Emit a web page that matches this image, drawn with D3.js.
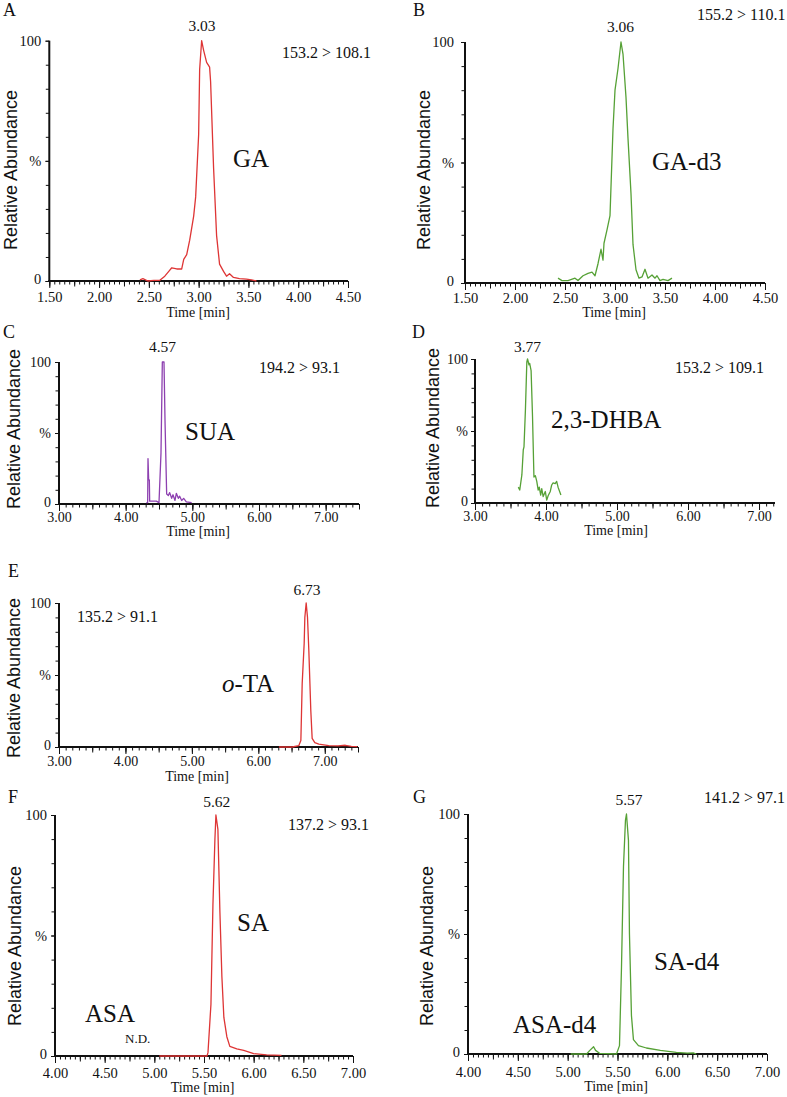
<!DOCTYPE html>
<html><head><meta charset="utf-8">
<script src="https://cdn.jsdelivr.net/npm/d3@7"></script>
<style>body{margin:0;background:#fff}svg{display:block}</style>
</head><body>
<svg id="chart" width="787" height="1097"></svg>
<script>
// ---------- DATA ----------
// A: GA (153.2 > 108.1)
const gaTime  = [2.41,2.44,2.49,2.55,2.61,2.66,2.70,2.73,2.78,2.83,2.85,2.88,2.91,2.95,2.97,3.00,3.01,3.03,3.05,3.08,3.11,3.12,3.15,3.18,3.21,3.25,3.28,3.31,3.35,3.41,3.48,3.53,3.58];
const gaAbund = [0.5,1,0,0.3,0.3,2,4,5.5,5,5,9,11,17,27,35,61,88,100,96,91,89,83,47,19,7,4,2,3,1.5,1,0.8,0.5,0];
// B: GA-d3 (155.2 > 110.1)
const gadTime  = [2.43,2.47,2.53,2.60,2.63,2.68,2.73,2.77,2.80,2.83,2.86,2.88,2.89,2.92,2.95,2.98,3.00,3.03,3.06,3.08,3.11,3.13,3.16,3.18,3.21,3.24,3.27,3.30,3.33,3.37,3.40,3.42,3.45,3.48,3.53,3.57];
const gadAbund = [2,1,1,2,1,3,4,4.5,3,8,14,9.5,16.5,22,28,64,80,89,100,95,77,60,37,16,5.5,2,2.5,5.7,2,3.3,2,3,1,1.5,1,2];
// C: SUA (194.2 > 93.1)
const suaTime  = [4.31,4.33,4.335,4.345,4.355,4.36,4.46,4.50,4.53,4.55,4.575,4.59,4.615,4.64,4.66,4.69,4.71,4.74,4.76,4.79,4.81,4.84,4.87,4.91,4.99];
const suaAbund = [1,1,32,17,17,2,2,1,36,100,100,59,7,6,8,4,6.5,2.5,7.5,4,5.5,2.5,4,1.5,1];
// D: 2,3-DHBA (153.2 > 109.1)
const dhbaTime  = [3.61,3.63,3.66,3.68,3.69,3.71,3.73,3.74,3.76,3.77,3.79,3.81,3.83,3.85,3.87,3.89,3.905,3.925,3.94,3.96,3.99,4.01,4.03,4.06,4.08,4.10,4.13,4.15,4.17,4.21];
const dhbaAbund = [11,9,19.5,37,39,64.5,98,100,96,97,92,60,18,19,15,9,11,5.5,10,4.5,8,2,5,8,12.5,14,13.5,15,11,5.5];
// E: o-TA (135.2 > 91.1)
const otaTime  = [6.31,6.51,6.61,6.64,6.66,6.69,6.70,6.72,6.74,6.76,6.79,6.81,6.85,6.91,7.06,7.20,7.31,7.40,7.49];
const otaAbund = [0,0,1,4.5,44,72,90,100,90,67,25,6,3,2,1,0.8,1.2,0.5,0.3];
// F: SA (137.2 > 93.1)
const saTime  = [5.05,5.30,5.53,5.54,5.57,5.59,5.61,5.62,5.64,5.66,5.68,5.70,5.73,5.76,5.83,5.90,6.00,6.13,6.28];
const saAbund = [0,0,0,1.4,21.5,63,90,100,94,60,33,16,8,4,3,2.3,1,0.5,0.3];
// G: SA-d4 (141.2 > 97.1)
const sadTime  = [5.03,5.19,5.22,5.26,5.28,5.32,5.49,5.52,5.54,5.56,5.58,5.59,5.61,5.62,5.64,5.66,5.71,5.79,5.93,6.09,6.20,6.26,6.29];
const sadAbund = [0,0,1.4,3,1.5,0.3,0,3.5,36,78,97.5,100,89,50,16,6,3.5,2.5,1.5,0.7,0.4,0.5,0];

// tick labels
const ticksAB  = [1.5,2.0,2.5,3.0,3.5,4.0,4.5];
const ticksCDE = [3,4,5,6,7];
const ticksFG  = [4.0,4.5,5.0,5.5,6.0,6.5,7.0];
const yTickValues = [0,50,100];
const yTickLabels = ["0","%","100"];

// text labels
const panelLetters = ["A","B","C","D","E","F","G"];
const peakLabels   = ["3.03","3.06","4.57","3.77","6.73","5.62","5.57"];
const mrmLabels    = ["153.2 > 108.1","155.2 > 110.1","194.2 > 93.1","153.2 > 109.1","135.2 > 91.1","137.2 > 93.1","141.2 > 97.1"];
const xTitle = "Time [min]";
const yTitle = "Relative Abundance";

// ---------- STYLE / LAYOUT ----------
const RED="#de3535", GREEN="#56a136", PURPLE="#8d40b0";
const SERIF='"Liberation Serif","Times New Roman",serif';
const SANS='"Liberation Sans",Arial,sans-serif';

const panels = [
 {time:gaTime, ab:gaAbund, color:RED, xr:[49.3,348], yr:[281,40.7], dom:[1.5,4.5], ticks:ticksAB, minor:0.05, mid:0.25,
  letter:[3,16], peak:[202,31], mrm:[282,58], tOff:21, tf:14.5, title:[198,317], ylab:[11,170], yGap:8,
  names:[{t:"GA",x:233,y:167}]},
 {time:gadTime, ab:gadAbund, color:GREEN, xr:[465,765], yr:[283,42], dom:[1.5,4.5], ticks:ticksAB, minor:0.05, mid:0.25,
  letter:[413,16], peak:[620.5,32], mrm:[697,20], tOff:20, tf:14.5, title:[614,317], ylab:[424,170], yGap:11,
  names:[{t:"GA-d3",x:652,y:170}]},
 {time:suaTime, ab:suaAbund, color:PURPLE, xr:[59,359], yr:[504,362], dom:[3,7.5], ticks:ticksCDE, minor:0.1, mid:0.5,
  letter:[3,338], peak:[162.5,352], mrm:[259,373], tOff:18, tf:14, title:[198,536], ylab:[14,429], yGap:8,
  names:[{t:"SUA",x:185,y:440}]},
 {time:dhbaTime, ab:dhbaAbund, color:GREEN, xr:[475,775], yr:[503,359], dom:[3,7.225], ticks:ticksCDE, minor:0.1, mid:0.5,
  letter:[412,338], peak:[527.5,352], mrm:[675,373], tOff:18, tf:14, title:[616,535], ylab:[433,428], yGap:7,
  names:[{t:"2,3-DHBA",x:551,y:428}]},
 {time:otaTime, ab:otaAbund, color:RED, xr:[59,358], yr:[747,603], dom:[3,7.5], ticks:ticksCDE, minor:0.1, mid:0.5,
  letter:[8,577], peak:[307,595], mrm:[77,622], tOff:19, tf:14, title:[197,781], ylab:[14,678], yGap:8,
  names:[{t:"-TA",it:"o",x:222,y:692}]},
 {time:saTime, ab:saAbund, color:RED, xr:[55,353], yr:[1056,815], dom:[4,7], ticks:ticksFG, minor:0.05, mid:0.25,
  letter:[8,803], peak:[216.7,807], mrm:[288,830], tOff:22, tf:14.5, title:[202.5,1092], ylab:[15,946], yGap:8,
  names:[{t:"SA",x:237,y:931},{t:"ASA",x:85,y:1022},{t:"N.D.",x:125,y:1043,s:13}]},
 {time:sadTime, ab:sadAbund, color:GREEN, xr:[468,767], yr:[1054,814], dom:[4,7], ticks:ticksFG, minor:0.05, mid:0.25,
  letter:[413,803], peak:[629,805], mrm:[704,803], tOff:23, tf:14.5, title:[616,1091], ylab:[427,946], yGap:8,
  names:[{t:"SA-d4",x:654,y:970},{t:"ASA-d4",x:513,y:1033}]}
];

const svg = d3.select("#chart");
svg.append("rect").attr("width",787).attr("height",1097).attr("fill","#fff");

panels.forEach((p,i)=>{
  const g = svg.append("g");
  const x = d3.scaleLinear().domain(p.dom).range(p.xr);
  const y = d3.scaleLinear().domain([0,100]).range(p.yr);

  // minor x ticks
  const n0 = Math.round(p.dom[0]/p.minor), n1 = Math.floor(p.dom[1]/p.minor+1e-6);
  const minorVals = d3.range(n0, n1+1).map(k=>+(k*p.minor).toFixed(3));
  const midVals = minorVals.filter(v=>Math.abs(v/p.mid-Math.round(v/p.mid))<1e-6);
  const gx1 = g.append("g").attr("transform",`translate(0,${p.yr[0]})`)
    .call(d3.axisBottom(x).tickValues(minorVals).tickSize(3.5).tickFormat("").tickSizeOuter(0));
  const gx2 = g.append("g").attr("transform",`translate(0,${p.yr[0]})`)
    .call(d3.axisBottom(x).tickValues(midVals).tickSize(5.5).tickFormat("").tickSizeOuter(0));
  const gx3 = g.append("g").attr("transform",`translate(0,${p.yr[0]})`)
    .call(d3.axisBottom(x).tickValues(p.ticks).tickSize(7).tickPadding(p.tOff-7-0.71*p.tf)
      .tickFormat(d3.format(".2f")).tickSizeOuter(0));
  // y ticks
  const gy1 = g.append("g").attr("transform",`translate(${p.xr[0]},0)`)
    .call(d3.axisLeft(y).tickValues(d3.range(0,101,10)).tickSize(3.5).tickFormat("").tickSizeOuter(0));
  const gy2 = g.append("g").attr("transform",`translate(${p.xr[0]},0)`)
    .call(d3.axisLeft(y).tickValues(yTickValues).tickSize(4).tickPadding(p.yGap-4)
      .tickFormat((d,k)=>yTickLabels[k]).tickSizeOuter(0));
  [gx1,gx2,gx3,gy1,gy2].forEach(a=>{
    a.select(".domain").remove();
    a.attr("font-family",SERIF).attr("font-size",p.tf);
    a.selectAll("line").attr("stroke","#111").attr("stroke-width",1);
    a.selectAll("text").attr("fill","#111");
  });
  // lift the "0" y label a touch so it clears the first x label
  gy2.selectAll(".tick text").filter(d=>d===0).attr("dy","0.2em");
  // axis lines
  g.append("line").attr("x1",p.xr[0]).attr("x2",p.xr[0]).attr("y1",p.yr[1]).attr("y2",p.yr[0]+1)
    .attr("stroke","#111").attr("stroke-width",2);
  g.append("line").attr("x1",p.xr[0]-1).attr("x2",p.xr[1]).attr("y1",p.yr[0]).attr("y2",p.yr[0])
    .attr("stroke","#111").attr("stroke-width",2);

  // trace
  const line = d3.line().x(d=>x(d[0])).y(d=>y(d[1]));
  g.append("path").datum(d3.zip(p.time,p.ab)).attr("d",line)
    .attr("fill","none").attr("stroke",p.color).attr("stroke-width",1.3).attr("stroke-linejoin","round");

  // texts
  const T = (txt,xx,yy,size,anchor,fam)=>g.append("text").attr("x",xx).attr("y",yy).text(txt)
    .attr("font-size",size).attr("font-family",fam||SERIF).attr("text-anchor",anchor||"start").attr("fill","#111");
  T(panelLetters[i],p.letter[0],p.letter[1],18);
  T(peakLabels[i],p.peak[0],p.peak[1],15.5,"middle");
  T(mrmLabels[i],p.mrm[0],p.mrm[1],16);
  T(xTitle,p.title[0],p.title[1],14,"middle");
  g.append("text").attr("transform",`translate(${p.ylab[0]},${p.ylab[1]}) rotate(-90)`)
    .attr("text-anchor","middle").attr("dominant-baseline","central")
    .attr("font-family",SANS).attr("font-size",18).attr("fill","#111").text(yTitle);
  p.names.forEach(nm=>{
    const t = g.append("text").attr("x",nm.x).attr("y",nm.y).attr("font-family",SERIF)
      .attr("font-size",nm.s||25).attr("fill","#111");
    if(nm.it) t.append("tspan").attr("font-style","italic").text(nm.it);
    t.append("tspan").text(nm.t);
  });
});
</script>
</body></html>
